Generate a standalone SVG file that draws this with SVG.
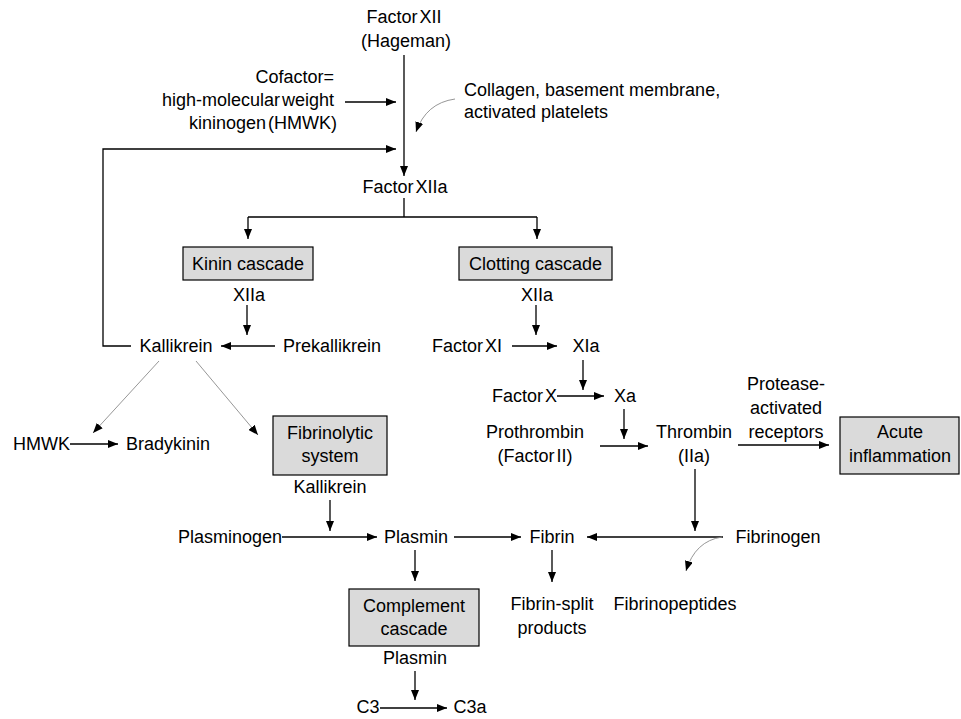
<svg xmlns="http://www.w3.org/2000/svg" width="961" height="719" viewBox="0 0 961 719">
<style>
text{font-family:"Liberation Sans",Arial,Helvetica,sans-serif;font-size:18px;fill:#000}
.c{text-anchor:middle}
.e{text-anchor:end}
.t{word-spacing:-3px}
.box{fill:#dadada;stroke:#000;stroke-width:1.2}
.ln{fill:none;stroke:#000;stroke-width:1.3}
.gl{fill:none;stroke:#8a8a8a;stroke-width:0.9}
</style>
<defs>
<marker id="ah" viewBox="0 0 10 8" refX="10" refY="4" markerWidth="10" markerHeight="8" markerUnits="userSpaceOnUse" orient="auto">
<path d="M0,0 L10,4 L0,8 z" fill="#000"/>
</marker>
</defs>
<rect width="961" height="719" fill="#fff"/>
<g id="connectors">
<path class="ln" d="M404,55 V176" marker-end="url(#ah)"/>
<path class="ln" d="M345,102 H396" marker-end="url(#ah)"/>
<path class="ln" d="M131,346 H103 V149 H396" marker-end="url(#ah)"/>
<path class="gl" d="M455,99 Q426,103 416,132" marker-end="url(#ah)"/>
<path class="ln" d="M404,198 V217 M248,217 H537"/>
<path class="ln" d="M248,217 V239" marker-end="url(#ah)"/>
<path class="ln" d="M537,217 V239" marker-end="url(#ah)"/>
<path class="ln" d="M247,305 V335" marker-end="url(#ah)"/>
<path class="ln" d="M275,346 H221" marker-end="url(#ah)"/>
<path class="gl" d="M159,361 L93,433" marker-end="url(#ah)"/>
<path class="gl" d="M196,361 L258,435" marker-end="url(#ah)"/>
<path class="ln" d="M70,444 H118" marker-end="url(#ah)"/>
<path class="ln" d="M536,305 V335" marker-end="url(#ah)"/>
<path class="ln" d="M512,346 H557" marker-end="url(#ah)"/>
<path class="ln" d="M583,360 V390" marker-end="url(#ah)"/>
<path class="ln" d="M557,396 H604" marker-end="url(#ah)"/>
<path class="ln" d="M624,409 V439" marker-end="url(#ah)"/>
<path class="ln" d="M600,446 H648" marker-end="url(#ah)"/>
<path class="ln" d="M738,445 H829" marker-end="url(#ah)"/>
<path class="ln" d="M695,469 V531" marker-end="url(#ah)"/>
<path class="ln" d="M723,537 H587" marker-end="url(#ah)"/>
<path class="gl" d="M722,537 Q695,541 686,571" marker-end="url(#ah)"/>
<path class="ln" d="M330,500 V531" marker-end="url(#ah)"/>
<path class="ln" d="M282,537 H377" marker-end="url(#ah)"/>
<path class="ln" d="M454,537 H521" marker-end="url(#ah)"/>
<path class="ln" d="M415,550 V581" marker-end="url(#ah)"/>
<path class="ln" d="M552,550 V582" marker-end="url(#ah)"/>
<path class="ln" d="M415,671 V700" marker-end="url(#ah)"/>
<path class="ln" d="M380,708 H447" marker-end="url(#ah)"/>
</g>
<g id="factorXII"><text class="c t" x="404" y="23">Factor XII</text><text class="c" x="406" y="47">(Hageman)</text></g>
<g id="cofactor"><text class="e" x="334" y="83">Cofactor=</text><text class="e t" x="334" y="106">high-molecular weight</text><text class="e t" x="337" y="129">kininogen (HMWK)</text></g>
<g id="collagen"><text x="464" y="96">Collagen, basement membrane,</text><text x="464" y="118">activated platelets</text></g>
<g id="factorXIIa"><text class="c t" x="405" y="193">Factor XIIa</text></g>
<g id="kinin"><rect class="box" x="183" y="247" width="130" height="33"/><text class="c" x="248" y="270">Kinin cascade</text></g>
<g id="clotting"><rect class="box" x="459" y="247" width="153" height="33"/><text class="c" x="535.5" y="270">Clotting cascade</text></g>
<g id="xiia1"><text class="c" x="249" y="301">XIIa</text></g>
<g id="kallikrein1"><text class="c" x="176" y="352">Kallikrein</text></g>
<g id="prekallikrein"><text class="c" x="332" y="352">Prekallikrein</text></g>
<g id="hmwk"><text x="13" y="450">HMWK</text></g>
<g id="bradykinin"><text x="126" y="450">Bradykinin</text></g>
<g id="fibrinolytic"><rect class="box" x="273" y="416" width="114" height="59"/><text class="c" x="330" y="439">Fibrinolytic</text><text class="c" x="330" y="462">system</text></g>
<g id="xiia2"><text class="c" x="537" y="301">XIIa</text></g>
<g id="factorXI"><text class="c t" x="467" y="352">Factor XI</text></g>
<g id="xia"><text class="c" x="586" y="352">XIa</text></g>
<g id="factorX"><text class="e t" x="557" y="402">Factor X</text></g>
<g id="xa"><text class="c" x="625" y="402">Xa</text></g>
<g id="prothrombin"><text class="c" x="535" y="438">Prothrombin</text><text class="c t" x="535" y="462">(Factor II)</text></g>
<g id="thrombin"><text class="c" x="694" y="438">Thrombin</text><text class="c" x="694" y="462">(IIa)</text></g>
<g id="par"><text class="c" x="786" y="390">Protease-</text><text class="c" x="786" y="414">activated</text><text class="c" x="786" y="438">receptors</text></g>
<g id="acute"><rect class="box" x="840" y="417" width="119" height="57"/><text class="c" x="900" y="438">Acute</text><text class="c" x="900" y="462">inflammation</text></g>
<g id="kallikrein2"><text class="c" x="330" y="493">Kallikrein</text></g>
<g id="plasminogen"><text class="e" x="282" y="543">Plasminogen</text></g>
<g id="plasmin1"><text class="c" x="416" y="543">Plasmin</text></g>
<g id="fibrin"><text class="c" x="552" y="543">Fibrin</text></g>
<g id="fibrinogen"><text class="c" x="778" y="543">Fibrinogen</text></g>
<g id="fsp"><text class="c" x="552" y="610">Fibrin-split</text><text class="c" x="552" y="634">products</text></g>
<g id="fibrinopeptides"><text class="c" x="675" y="610">Fibrinopeptides</text></g>
<g id="complement"><rect class="box" x="349" y="589" width="130" height="57"/><text class="c" x="414" y="612">Complement</text><text class="c" x="414" y="635">cascade</text></g>
<g id="plasmin2"><text class="c" x="415" y="664">Plasmin</text></g>
<g id="c3"><text class="c" x="368" y="713">C3</text></g>
<g id="c3a"><text class="c" x="470" y="713">C3a</text></g>
</svg>
